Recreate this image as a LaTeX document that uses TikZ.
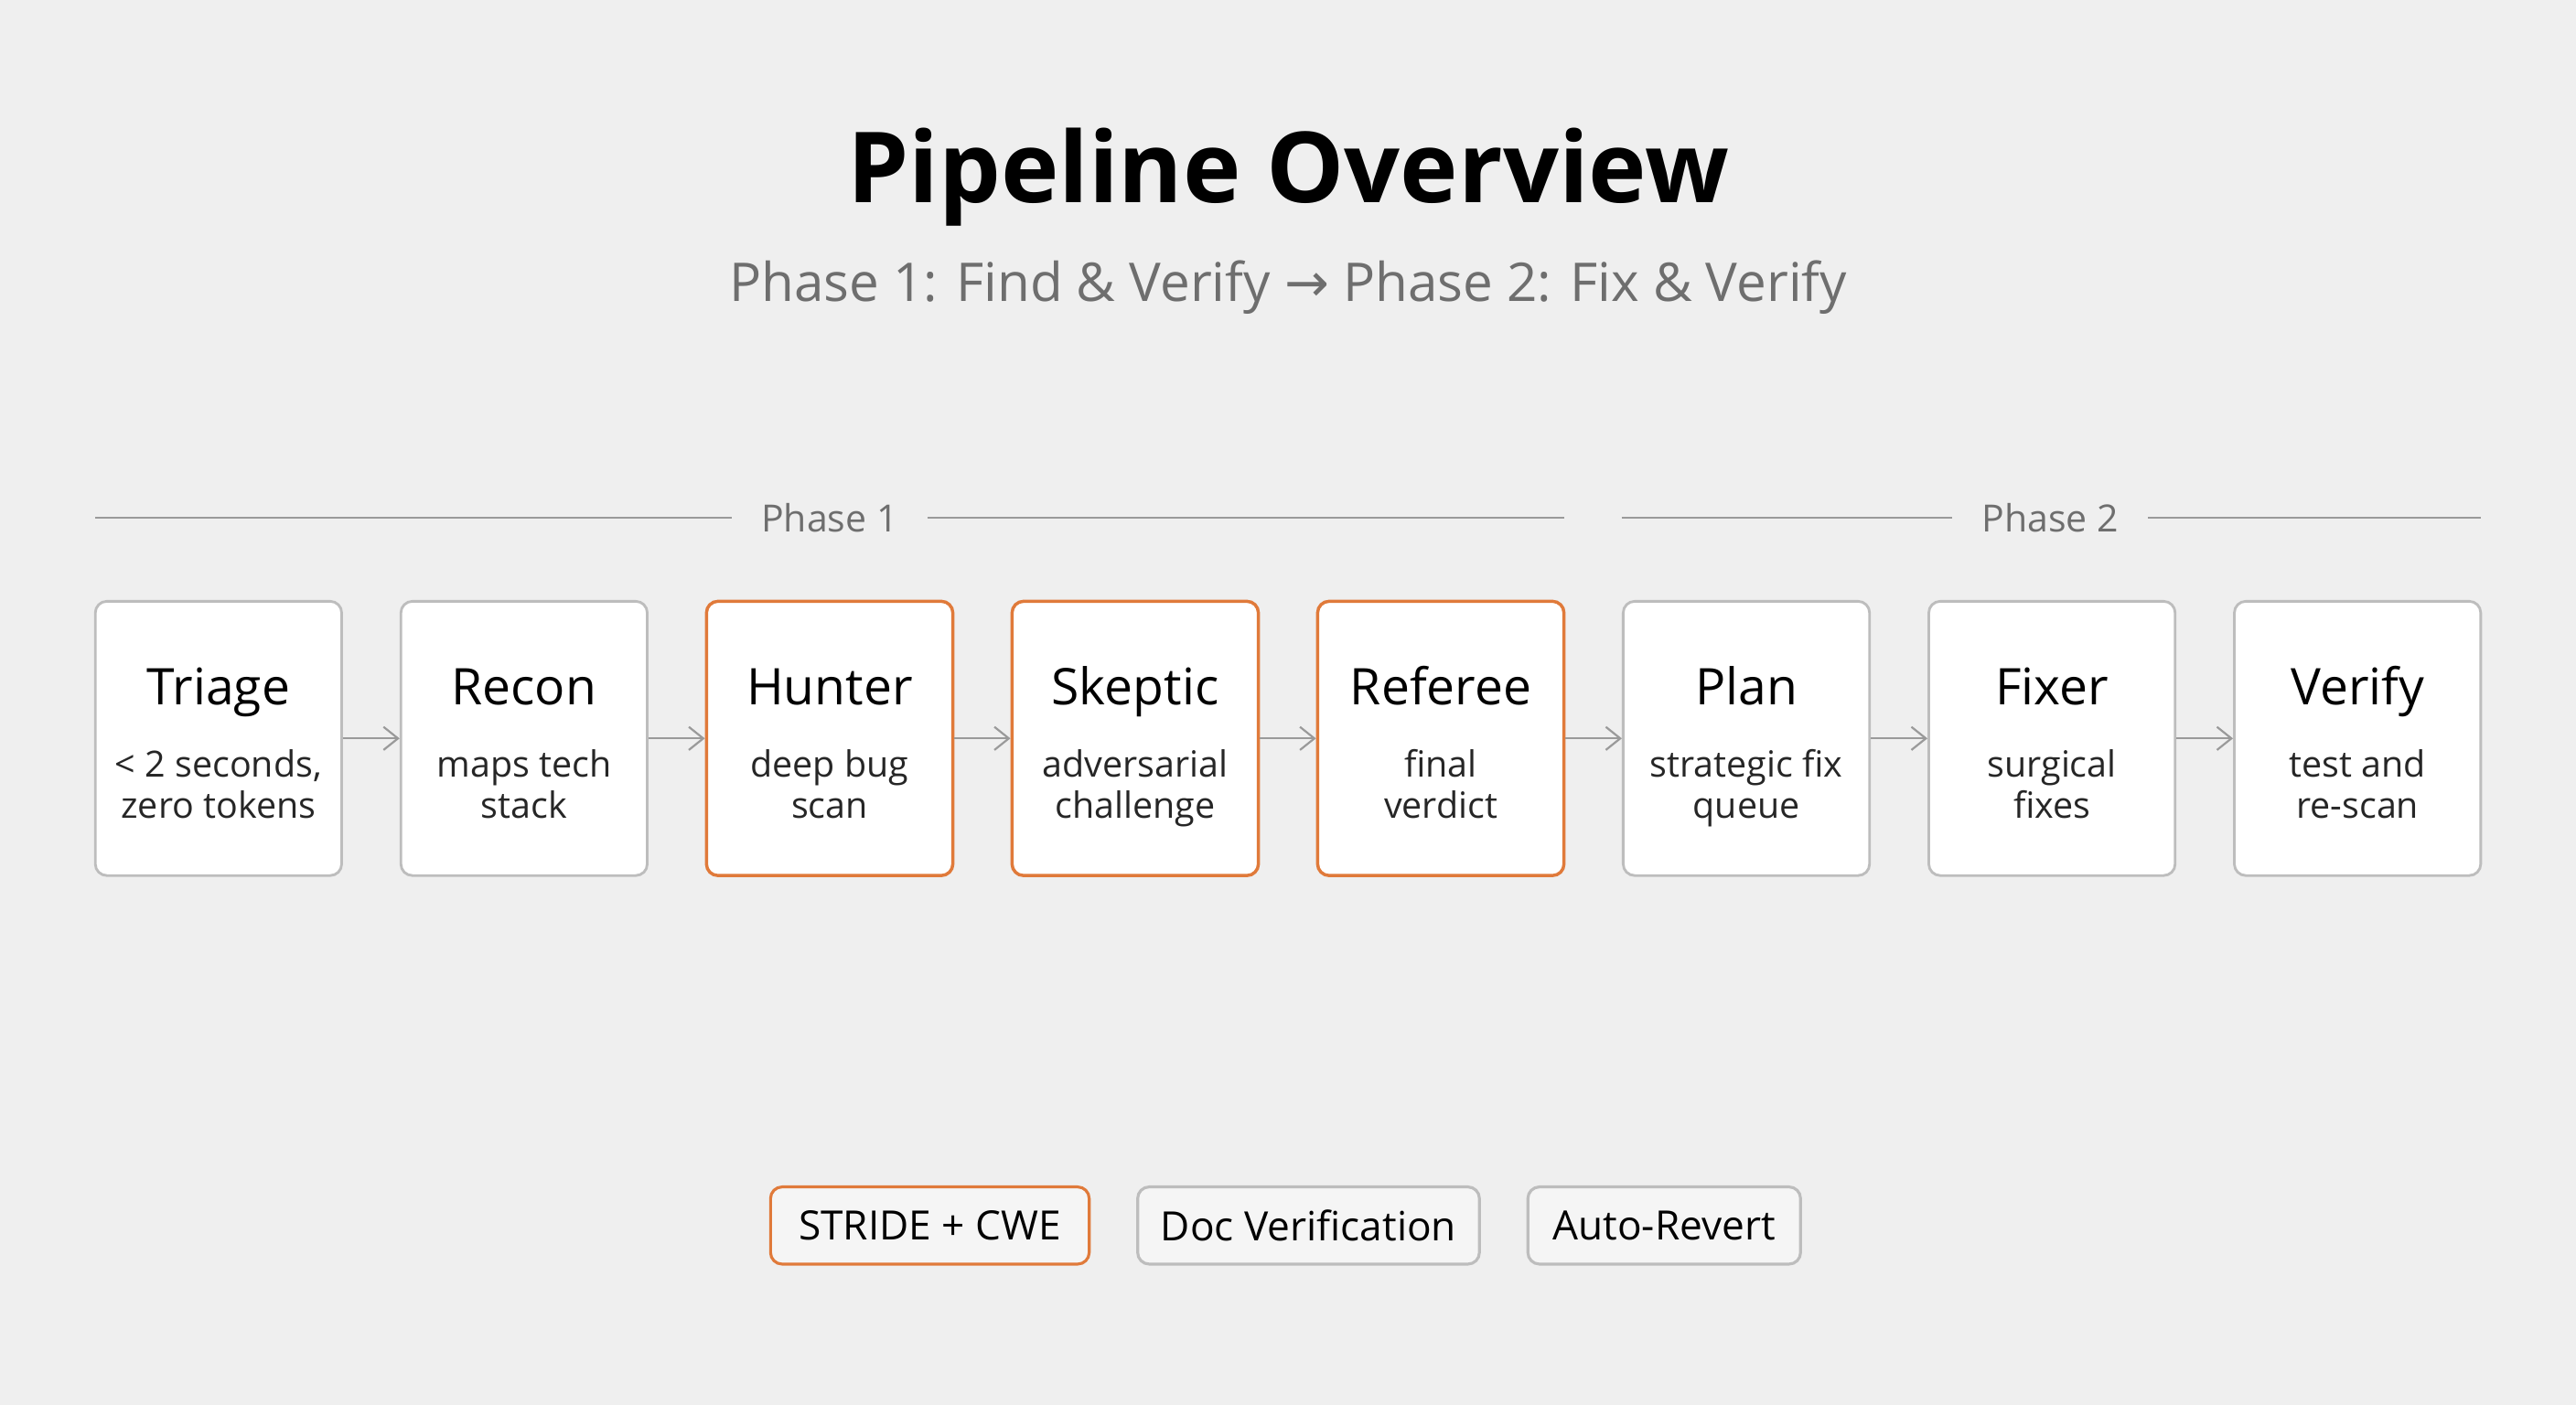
\documentclass[tikz,border=0pt]{standalone}
\usepackage{fontspec}
\setmainfont{Open Sans}
\newfontfamily\arrowfont{DejaVu Sans}
\usetikzlibrary{arrows.meta, positioning}

\definecolor{bgcol}{HTML}{EFEFEF}
\definecolor{edgegray}{HTML}{BDBDBD}
\definecolor{accent}{HTML}{E07A3A}
\definecolor{subgray}{HTML}{6E6E6E}
\definecolor{linegray}{HTML}{9A9A9A}

\begin{document}
\begin{tikzpicture}[x=0.02cm,y=-0.02cm]
\tikzset{
    stage/.style={draw=edgegray, line width=0.9pt, fill=white, rounded corners=4pt,
        minimum width=3cm, minimum height=3.34cm},
    hot/.style={stage, draw=accent, line width=1.1pt},
    stitle/.style={font=\fontsize{17.5}{20}\selectfont, text=black, anchor=base},
    stext/.style={font=\fontsize{12.5}{14.2}\selectfont, text=black!85, align=center, anchor=base},
    flow/.style={draw=linegray, line width=0.7pt, -{Straight Barb[length=5pt,width=8pt]}},
    phase/.style={font=\fontsize{13}{16}\selectfont, text=subgray, inner xsep=10pt},
    rule/.style={draw=linegray, line width=0.7pt},
    tag/.style={draw=edgegray, line width=1pt, fill=bgcol!60!white, rounded corners=4pt,
        minimum height=0.94cm, inner xsep=8pt, font=\fontsize{14}{17}\selectfont}
}
\fill[bgcol] (0,0) rectangle (1568,855);

% Title
\node[font=\fontsize{34}{40}\selectfont\bfseries] (title) at (784,108) {Pipeline Overview};
\node[font=\fontsize{18.5}{22}\selectfont, text=subgray] (subtitle) at (784,175)
    {Phase 1: Find \& Verify {\arrowfont →} Phase 2: Fix \& Verify};

% Phase headers
\node[phase] (phaseA) at (505,315) {Phase 1};
\node[phase] (phaseB) at (1248,315) {Phase 2};
\coordinate (ruleAl) at (58,315);
\coordinate (ruleAr) at (952,315);
\coordinate (ruleBl) at (987,315);
\coordinate (ruleBr) at (1510,315);
\draw[rule] (ruleAl) -- (phaseA.west);
\draw[rule] (phaseA.east) -- (ruleAr);
\draw[rule] (ruleBl) -- (phaseB.west);
\draw[rule] (phaseB.east) -- (ruleBr);

% Stages
\node[stage] (triage) at (133,449.5) {};
\node[stage] (recon) at (319,449.5) {};
\node[hot] (hunter) at (505,449.5) {};
\node[hot] (skeptic) at (691,449.5) {};
\node[hot] (referee) at (877,449.5) {};
\node[stage] (plan) at (1063,449.5) {};
\node[stage] (fixer) at (1249,449.5) {};
\node[stage] (verify) at (1435,449.5) {};

\node[stitle] at (133,429) {Triage};
\node[stext] at (133,498) {< 2 seconds,\\zero tokens};
\node[stitle] at (319,429) {Recon};
\node[stext] at (319,498) {maps tech\\stack};
\node[stitle] at (505,429) {Hunter};
\node[stext] at (505,498) {deep bug\\scan};
\node[stitle] at (691,429) {Skeptic};
\node[stext] at (691,498) {adversarial\\challenge};
\node[stitle] at (877,429) {Referee};
\node[stext] at (877,498) {final\\verdict};
\node[stitle] at (1063,429) {Plan};
\node[stext] at (1063,498) {strategic fix\\queue};
\node[stitle] at (1249,429) {Fixer};
\node[stext] at (1249,498) {surgical\\fixes};
\node[stitle] at (1435,429) {Verify};
\node[stext] at (1435,498) {test and\\re-scan};

\draw[flow] (triage) -- (recon);
\draw[flow] (recon) -- (hunter);
\draw[flow] (hunter) -- (skeptic);
\draw[flow] (skeptic) -- (referee);
\draw[flow] (referee) -- (plan);
\draw[flow] (plan) -- (fixer);
\draw[flow] (fixer) -- (verify);

% Tags
\node[tag, draw=accent, minimum width=3.88cm] (stride) at (566,746) {STRIDE + CWE};
\node[tag, minimum width=4.14cm] (docver) at (796.5,746) {Doc Verification};
\node[tag, minimum width=3.32cm] (revert) at (1013,746) {Auto-Revert};
\end{tikzpicture}
\end{document}
